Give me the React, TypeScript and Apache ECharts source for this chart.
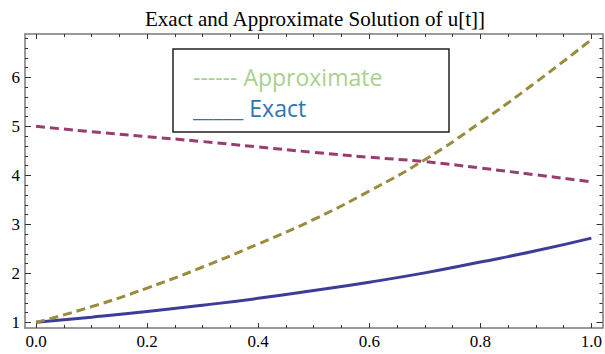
import React, { useEffect, useRef } from "react";
import * as echarts from "echarts";

const tValues = [0, 0.1, 0.2, 0.3, 0.4, 0.5, 0.6, 0.7, 0.8, 0.9, 1.0];
const exactValues = [1.0, 1.105, 1.22, 1.35, 1.49, 1.65, 1.82, 2.01, 2.23, 2.46, 2.72];
const approxValues = [1.0, 1.32, 1.7, 2.13, 2.6, 3.1, 3.68, 4.32, 5.08, 5.9, 6.77];
const secondValues = [5.0, 4.89, 4.79, 4.69, 4.58, 4.47, 4.37, 4.28, 4.15, 4.01, 3.87];

const xMajorTicks = [0, 0.2, 0.4, 0.6, 0.8, 1.0];
const xMinorTicks = [0.05, 0.1, 0.15, 0.25, 0.3, 0.35, 0.45, 0.5, 0.55, 0.65, 0.7, 0.75, 0.85, 0.9, 0.95];
const yMajorTicks = [1, 2, 3, 4, 5, 6];
const yMinorTicks = [1.2, 1.4, 1.6, 1.8, 2.2, 2.4, 2.6, 2.8, 3.2, 3.4, 3.6, 3.8, 4.2, 4.4, 4.6, 4.8, 5.2, 5.4, 5.6, 5.8, 6.2, 6.4, 6.6, 6.8];

const titleText = "Exact and Approximate Solution of u[t]]";
const legendApprox = "------ Approximate";
const legendExact = "_____ Exact";

const X_MIN = -0.02;
const X_MAX = 1.02;
const Y_MIN = 0.885;
const Y_MAX = 6.885;

const FRAME = "#7a7a7a";
const TICK = "#333";
const SERIF = "Liberation Serif";

function xAxisDef(position: "top" | "bottom", ticks: number[], len: number, labels: boolean, line: boolean) {
  return {
    type: "value",
    position,
    min: X_MIN,
    max: X_MAX,
    axisLine: { show: line, onZero: false, lineStyle: { color: FRAME, width: 1.5 } },
    axisTick: { show: true, inside: true, length: len, customValues: ticks, lineStyle: { color: TICK, width: 1 } },
    axisLabel: labels
      ? { show: true, customValues: ticks, formatter: (v: number) => v.toFixed(1), fontFamily: SERIF, fontSize: 17, color: "#000", margin: 5 }
      : { show: false },
    splitLine: { show: false },
  };
}

function yAxisDef(position: "left" | "right", ticks: number[], len: number, labels: boolean, line: boolean) {
  return {
    type: "value",
    position,
    min: Y_MIN,
    max: Y_MAX,
    axisLine: { show: line, onZero: false, lineStyle: { color: FRAME, width: 1.5 } },
    axisTick: { show: true, inside: true, length: len, customValues: ticks, lineStyle: { color: TICK, width: 1 } },
    axisLabel: labels
      ? { show: true, customValues: ticks, formatter: (v: number) => String(Math.round(v)), fontFamily: SERIF, fontSize: 17, color: "#000", margin: 5 }
      : { show: false },
    splitLine: { show: false },
  };
}

export default function App() {
  const ref = useRef<HTMLDivElement>(null);
  useEffect(() => {
    if (!ref.current) return;
    const chart = echarts.init(ref.current, null, { renderer: "svg" });
    const pair = (vals: number[]) => tValues.map((t, i) => [t, vals[i]]);
    chart.setOption({
      animation: false,
      backgroundColor: "#fff",
      grid: { left: 25, top: 34, width: 582, height: 294 },
      xAxis: [
        xAxisDef("bottom", xMajorTicks, 5, true, true),
        xAxisDef("bottom", xMinorTicks, 3, false, false),
        xAxisDef("top", xMajorTicks, 5, false, true),
        xAxisDef("top", xMinorTicks, 3, false, false),
      ],
      yAxis: [
        yAxisDef("left", yMajorTicks, 6, true, true),
        yAxisDef("left", yMinorTicks, 3, false, false),
        yAxisDef("right", yMajorTicks, 6, false, true),
        yAxisDef("right", yMinorTicks, 3, false, false),
      ],
      series: [
        {
          type: "line",
          name: "Exact",
          data: pair(exactValues),
          smooth: true,
          showSymbol: false,
          lineStyle: { color: "#3d3d99", width: 3 },
          z: 3,
        },
        {
          type: "line",
          name: "Second",
          data: pair(secondValues),
          smooth: true,
          showSymbol: false,
          lineStyle: { color: "#993d71", width: 3, type: [9, 5] },
          z: 3,
        },
        {
          type: "line",
          name: "Approximate",
          data: pair(approxValues),
          smooth: true,
          showSymbol: false,
          lineStyle: { color: "#998c3d", width: 3, type: [9, 5] },
          z: 3,
        },
      ],
      graphic: [
        {
          type: "text",
          x: 315,
          y: 19,
          z: 10,
          style: { text: titleText, font: '21px "Liberation Serif"', fill: "#000", textAlign: "center", textVerticalAlign: "middle" },
        },
        {
          type: "rect",
          z: 10,
          shape: { x: 173, y: 49, width: 276, height: 83 },
          style: { fill: "#fff", stroke: "#222", lineWidth: 1.5 },
        },
        {
          type: "text",
          x: 193,
          y: 77,
          z: 11,
          style: { text: legendApprox, font: '23px "Open Sans"', fill: "#a9d18e", textAlign: "left", textVerticalAlign: "middle" },
        },
        {
          type: "text",
          x: 193,
          y: 108,
          z: 11,
          style: { text: legendExact, font: '23px "Open Sans"', fill: "#2e75b6", textAlign: "left", textVerticalAlign: "middle" },
        },
      ],
    });
    return () => chart.dispose();
  }, []);
  return <div ref={ref} style={{ position: "fixed", left: 0, top: 0, width: 605, height: 354 }} />;
}
